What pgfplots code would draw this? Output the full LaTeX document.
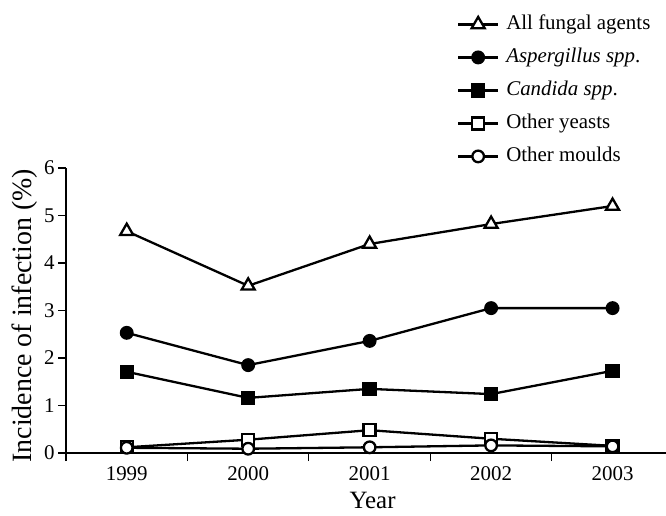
\documentclass[border=0pt]{standalone}
\usepackage{pgfplots}
\pgfplotsset{compat=1.18}
\usepackage{fontspec}
\setmainfont{Liberation Serif}
\begin{document}
\begin{tikzpicture}
\path[use as bounding box] (0bp,0bp) rectangle (666bp,516bp);
\begin{axis}[
  at={(66bp,63bp)}, anchor=south west,
  scale only axis, width=600bp, height=285bp,
  xmin=1998.5, xmax=2003.44, ymin=0, ymax=6,
  clip=false,
  axis lines=left,
  axis line style={-, line width=1.1bp, black},
  xtick={1999,2000,2001,2002,2003},
  xticklabels={1999,2000,2001,2002,2003},
  minor xtick={1998.5,1999.5,2000.5,2001.5,2002.5},
  ytick={0,1,2,3,4,5,6},
  tick align=outside,
  major tick length=8bp, minor tick length=8bp,
  major x tick style={draw=none},
  every tick/.style={black, line width=1.1bp},
  /pgf/number format/assume math mode=true,
  ticklabel style={font=\fontsize{21}{25}\selectfont},
  xticklabel style={yshift=-2bp},
  xlabel={Year},
  ylabel={Incidence of infection (\%)},
  xlabel style={font=\fontsize{25}{30}\selectfont, at={(axis description cs:0.511,-0.193)}, anchor=base},
  ylabel style={font=\fontsize{28}{33}\selectfont, at={(axis description cs:-0.0567,0.482)}, anchor=base, rotate=0},
  legend cell align=left,
  legend image code/.code={\draw[mark repeat=2,mark phase=2] plot coordinates {(0bp,0bp) (20bp,0bp) (40bp,0bp)};},
  legend style={draw=none, fill=none, inner sep=0pt, outer sep=0pt,
    at={(axis description cs:0.6517,1.538)}, anchor=north west,
    row sep=13.5bp,
    font=\fontsize{21}{25}\selectfont,
    nodes={inner xsep=7bp, inner ysep=0bp, text height=15bp, text depth=4.5bp}},
  every axis plot/.append style={black, line width=2.3bp, mark options={solid, line width=1.1bp}},
]
\addplot[mark=triangle*, mark size=7.5bp, mark options={fill=white}] coordinates {(1999,4.67) (2000,3.52) (2001,4.40) (2002,4.82) (2003,5.20)};
\addlegendentry{All fungal agents}
\addplot[mark=*, mark size=5.8bp, mark options={fill=black}] coordinates {(1999,2.53) (2000,1.85) (2001,2.36) (2002,3.05) (2003,3.05)};
\addlegendentry{\textit{Aspergillus spp}.}
\addplot[mark=square*, mark size=6bp, mark options={fill=black}] coordinates {(1999,1.71) (2000,1.16) (2001,1.35) (2002,1.24) (2003,1.73)};
\addlegendentry{\textit{Candida spp}.}
\addplot[mark=square*, mark size=6bp, mark options={fill=white}] coordinates {(1999,0.12) (2000,0.28) (2001,0.48) (2002,0.30) (2003,0.15)};
\addlegendentry{Other yeasts}
\addplot[mark=*, mark size=5.8bp, mark options={fill=white}] coordinates {(1999,0.11) (2000,0.09) (2001,0.12) (2002,0.16) (2003,0.14)};
\addlegendentry{Other moulds}
\end{axis}
\end{tikzpicture}
\end{document}
